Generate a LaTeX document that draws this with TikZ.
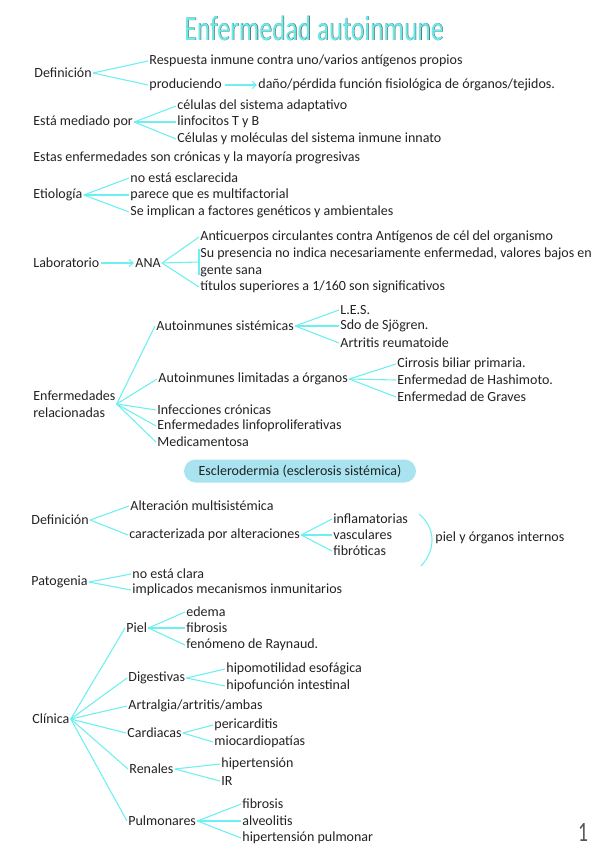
\documentclass[tikz,border=0pt]{standalone}
\usepackage{fontspec}
\setmainfont{Carlito}
\usetikzlibrary{arrows.meta,shapes.misc}
\definecolor{ink}{HTML}{222222}
\definecolor{aqua}{HTML}{6FF0F0}
\definecolor{pillblue}{HTML}{A9E3F0}
\definecolor{titlecyan}{HTML}{6CEAEA}
\definecolor{titlegray}{HTML}{555555}
\tikzset{
  tx/.style={anchor=west,inner sep=1.2pt,text=ink,font=\fontsize{14}{17}\selectfont},
  ln/.style={draw=aqua,line width=1.1pt},
  arr/.style={ln,-{Straight Barb[length=4pt,width=7pt]}},
}
\begin{document}
\begin{tikzpicture}[x=1pt,y=-1pt]
\useasboundingbox (0,0) rectangle (599,848);
% title
\node[text=titlegray,font=\fontsize{35}{35}\selectfont,xscale=0.73] (titles) at (314.6,28.6) {Enfermedad autoinmune};
\node[text=titlecyan,font=\fontsize{35}{35}\selectfont,xscale=0.73] (title) at (314,28) {Enfermedad autoinmune};
% Definicion
\node[tx] (d1) at (33,73) {Definición};
\node[tx] (r1) at (148,61) {Respuesta inmune contra uno/varios antígenos propios};
\node[tx] (prod) at (148,85) {produciendo};
\node[tx] (dano) at (257,85) {daño/pérdida función fisiológica de órganos/tejidos.};
\draw[ln] (d1.east) -- (r1.west);
\draw[ln] (d1.east) -- (prod.west);
\draw[arr] ([xshift=2pt]prod.east) -- (dano.west);
% mediado
\node[tx] (med) at (32,122) {Está mediado por};
\node[tx] (m1) at (176,106) {células del sistema adaptativo};
\node[tx] (m2) at (176,122) {linfocitos T y B};
\node[tx] (m3) at (176,139) {Células y moléculas del sistema inmune innato};
\foreach \n in {m1,m2,m3} \draw[ln] (med.east) -- (\n.west);
\node[tx] (est) at (32,158) {Estas enfermedades son crónicas y la mayoría progresivas};
% Etiologia
\node[tx] (eti) at (32,195) {Etiología};
\node[tx] (e1) at (129,178) {no está esclarecida};
\node[tx] (e2) at (129,195) {parece que es multifactorial};
\node[tx] (e3) at (129,212) {Se implican a factores genéticos y ambientales};
\foreach \n in {e1,e2,e3} \draw[ln] (eti.east) -- (\n.west);
% Laboratorio
\node[tx] (lab) at (32,263) {Laboratorio};
\node[tx] (ana) at (134,263) {ANA};
\draw[arr] (lab.east) -- (ana.west);
\node[tx] (a1) at (199,237) {Anticuerpos circulantes contra Antígenos de cél del organismo};
\node[tx,align=left] (su) at (199,262) {Su presencia no indica necesariamente enfermedad, valores bajos en\\gente sana};
\node[tx] (a3) at (199,287) {títulos superiores a 1/160 son significativos};
\draw[ln] (ana.east) -- (a1.west);
\draw[ln] (ana.east) -- (su.west);
\draw[ln] (ana.east) -- (a3.west);
\draw[ln] ([yshift=-3pt]su.north west) -- ([yshift=3pt]su.south west);
% Enfermedades relacionadas
\node[tx,align=left] (enf) at (32,404) {Enfermedades\\relacionadas};
\node[tx] (as) at (155,326) {Autoinmunes sistémicas};
\node[tx] (s1) at (339,310) {L.E.S.};
\node[tx] (s2) at (339,326) {Sdo de Sjögren.};
\node[tx] (s3) at (339,343) {Artritis reumatoide};
\foreach \n in {s1,s2,s3} \draw[ln] (as.east) -- (\n.west);
\node[tx] (al) at (157,379) {Autoinmunes limitadas a órganos};
\node[tx] (o1) at (396,364) {Cirrosis biliar primaria.};
\node[tx] (o2) at (396,380) {Enfermedad de Hashimoto.};
\node[tx] (o3) at (396,397) {Enfermedad de Graves};
\foreach \n in {o1,o2,o3} \draw[ln] (al.east) -- (\n.west);
\node[tx] (inf) at (156,410) {Infecciones crónicas};
\node[tx] (lin) at (156,426) {Enfermedades linfoproliferativas};
\node[tx] (medi) at (156,442) {Medicamentosa};
\foreach \n in {as,al,inf,lin,medi} \draw[ln] (enf.east) -- (\n.west);
% Esclerodermia
\node[rounded rectangle,fill=pillblue,minimum width=236pt,minimum height=23pt,inner sep=2pt,text=ink,font=\fontsize{14}{15}\selectfont] (pill) at (300,471) {Esclerodermia (esclerosis sistémica)};
\node[tx] (d2) at (30,520) {Definición};
\node[tx] (x1) at (129,506) {Alteración multisistémica};
\node[tx] (car) at (128,535) {caracterizada por alteraciones};
\draw[ln] (d2.east) -- (x1.west);
\draw[ln] (d2.east) -- (car.west);
\node[tx] (c1) at (332,519) {inflamatorias};
\node[tx] (c2) at (332,535) {vasculares};
\node[tx] (c3) at (332,551) {fibróticas};
\foreach \n in {c1,c2,c3} \draw[ln] (car.east) -- (\n.west);
\coordinate (bt) at (419,514);
\coordinate (bb) at (421,566);
\draw[ln] (bt) .. controls (436,528) and (436,550) .. (bb);
\node[tx] (piel) at (434,538) {piel y órganos internos};
% Patogenia
\node[tx] (pat) at (30,582) {Patogenia};
\node[tx] (p1) at (131,574) {no está clara};
\node[tx] (p2) at (131,590) {implicados mecanismos inmunitarios};
\draw[ln] (pat.east) -- (p1.west);
\draw[ln] (pat.east) -- (p2.west);
% Clinica
\node[tx] (cli) at (31,719) {Clínica};
\node[tx] (pi) at (125,628) {Piel};
\node[tx] (pi1) at (185,612) {edema};
\node[tx] (pi2) at (185,628) {fibrosis};
\node[tx] (pi3) at (185,645) {fenómeno de Raynaud.};
\foreach \n in {pi1,pi2,pi3} \draw[ln] (pi.east) -- (\n.west);
\node[tx] (dig) at (127,678) {Digestivas};
\node[tx] (dg1) at (225,669) {hipomotilidad esofágica};
\node[tx] (dg2) at (225,686) {hipofunción intestinal};
\foreach \n in {dg1,dg2} \draw[ln] (dig.east) -- (\n.west);
\node[tx] (art) at (127,706) {Artralgia/artritis/ambas};
\node[tx] (cad) at (126,733) {Cardiacas};
\node[tx] (cd1) at (213,725) {pericarditis};
\node[tx] (cd2) at (213,742) {miocardiopatías};
\foreach \n in {cd1,cd2} \draw[ln] (cad.east) -- (\n.west);
\node[tx] (ren) at (128,769) {Renales};
\node[tx] (rn1) at (220,764) {hipertensión};
\node[tx] (rn2) at (220,781) {IR};
\foreach \n in {rn1,rn2} \draw[ln] (ren.east) -- (\n.west);
\node[tx] (pul) at (127,821) {Pulmonares};
\node[tx] (pu1) at (241,804) {fibrosis};
\node[tx] (pu2) at (241,821) {alveolitis};
\node[tx] (pu3) at (241,838) {hipertensión pulmonar};
\foreach \n in {pu1,pu2,pu3} \draw[ln] (pul.east) -- (\n.west);
\foreach \n in {pi,dig,art,cad,ren,pul} \draw[ln] (cli.east) -- (\n.west);
\node[text=titlegray,inner sep=0pt,font=\fontsize{28}{28}\selectfont,xscale=0.7] (num) at (583,832) {1};
\end{tikzpicture}
\end{document}
